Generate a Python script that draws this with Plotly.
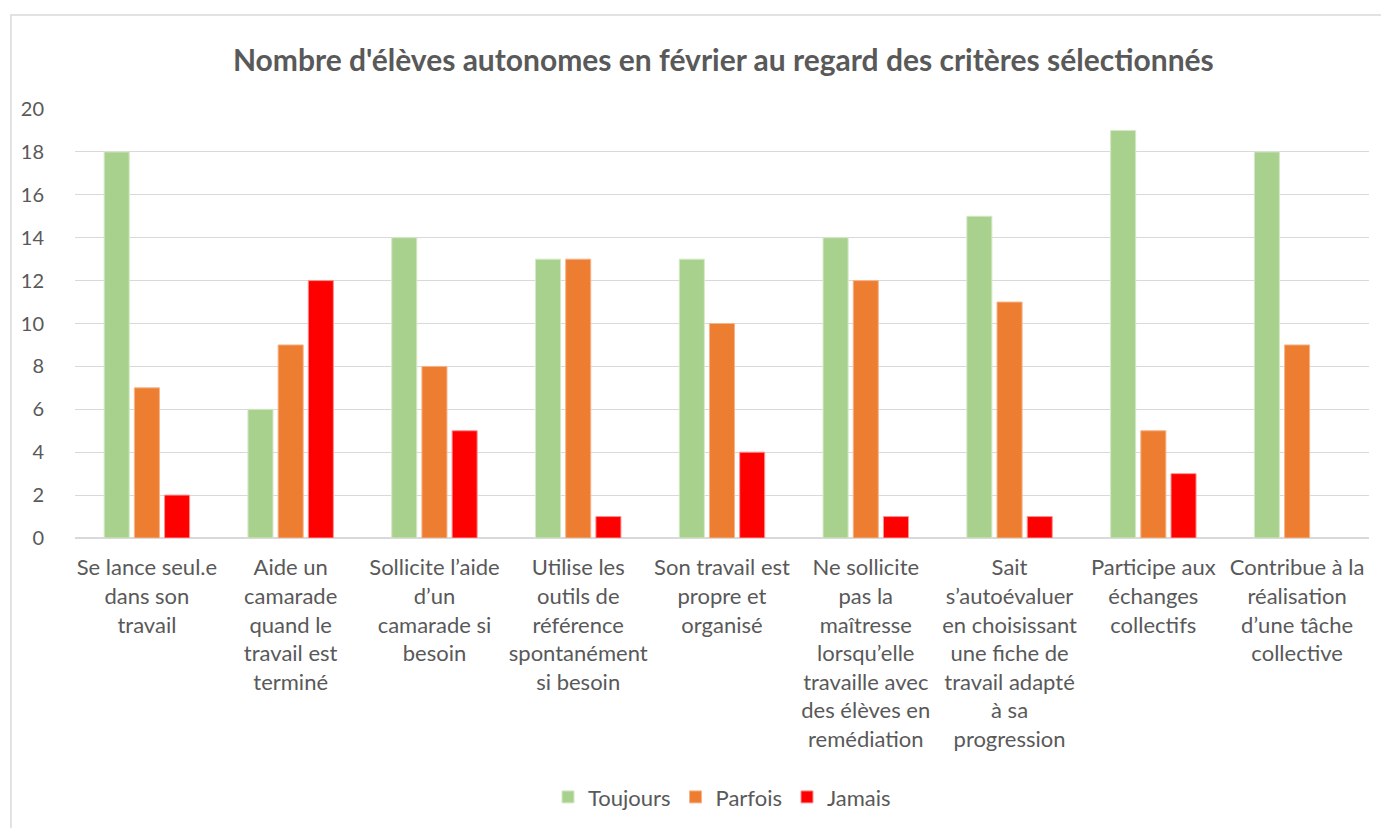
import plotly.graph_objects as go

categories = [
    "Se lance seul.e<br>dans son<br>travail",
    "Aide un<br>camarade<br>quand le<br>travail est<br>terminé",
    "Sollicite l’aide<br>d’un<br>camarade si<br>besoin",
    "Utilise les<br>outils de<br>référence<br>spontanément<br>si besoin",
    "Son travail est<br>propre et<br>organisé",
    "Ne sollicite<br>pas la<br>maîtresse<br>lorsqu’elle<br>travaille avec<br>des élèves en<br>remédiation",
    "Sait<br>s’autoévaluer<br>en choisissant<br>une fiche de<br>travail adapté<br>à sa<br>progression",
    "Participe aux<br>échanges<br>collectifs",
    "Contribue à la<br>réalisation<br>d’une tâche<br>collective",
]
toujours = [18, 6, 14, 13, 13, 14, 15, 19, 18]
parfois = [7, 9, 8, 13, 10, 12, 11, 5, 9]
jamais = [2, 12, 5, 1, 4, 1, 1, 3, 0]
y_ticks = [0, 2, 4, 6, 8, 10, 12, 14, 16, 18, 20]

FONT = "Lato, 'Open Sans', sans-serif"
GRAY = "#595959"

fig = go.Figure()
for name, vals, color, line in [
    ("Toujours", toujours, "#A9D18E", "#D5E8C7"),
    ("Parfois", parfois, "#ED7D31", "#F5B48A"),
    ("Jamais", jamais, "#FF0000", "#FF9090"),
]:
    fig.add_trace(go.Bar(
        x=categories, y=vals, name=name,
        marker=dict(color=color,
                    line=dict(color=line, width=[1 if v > 0 else 0 for v in vals])),
    ))

fig.update_layout(
    width=1389, height=828,
    paper_bgcolor="white", plot_bgcolor="white",
    barmode="group", bargap=0.37, bargroupgap=0.17,
    margin=dict(l=67, r=28, t=101, b=298),
    title=dict(
        text="<b>Nombre d'élèves autonomes en février au regard des critères sélectionnés</b>",
        xref="container", x=0.515, xanchor="center",
        yref="container", y=0.937, yanchor="middle",
        font=dict(family=FONT, size=30, color=GRAY),
    ),
    font=dict(family=FONT, color=GRAY, size=20),
    legend=dict(
        orientation="h", x=0.5, xanchor="center", y=-0.604, yanchor="middle",
        font=dict(family=FONT, size=22, color=GRAY),
        itemwidth=30, traceorder="normal",
    ),
    xaxis=dict(
        tickfont=dict(family=FONT, size=22, color=GRAY),
        showline=True, linecolor="#D9D9D9", linewidth=1,
        ticks="", tickangle=0, ticklabelstandoff=10,
    ),
    yaxis=dict(
        range=[0, 20], tickvals=y_ticks,
        tickfont=dict(family=FONT, size=20, color=GRAY),
        gridcolor="#D9D9D9", gridwidth=1,
        zeroline=True, zerolinecolor="#D9D9D9",
        ticks="", ticklabelstandoff=30,
    ),
    shapes=[dict(
        type="rect", xref="paper", yref="paper",
        x0=-0.0495, x1=1.05, y0=-0.75, y1=1.219,
        line=dict(color="#D9D9D9", width=1.5), fillcolor="rgba(0,0,0,0)",
        layer="below",
    )],
)

fig.write_html("out.html")
